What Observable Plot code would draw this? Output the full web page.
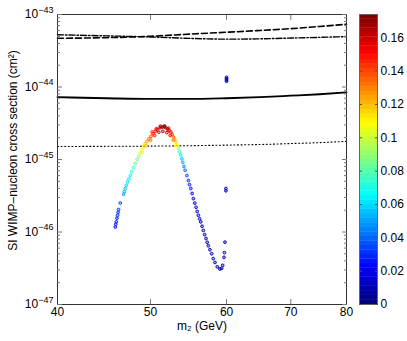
<!DOCTYPE html>
<html><head><meta charset="utf-8">
<script src="https://cdn.jsdelivr.net/npm/d3@7"></script>
<script src="https://cdn.jsdelivr.net/npm/@observablehq/plot@0.6"></script>
<style>
body{margin:0;background:#fff;}
#wrap{position:relative;width:407px;height:341px;font-family:"Liberation Sans",Arial,sans-serif;}
#wrap svg{position:absolute;top:0;}
</style></head><body><div id="wrap"></div>
<script>
// scatter points: m2 (GeV), SI cross section (cm^2), colour value
const m2 = [45.95,46.00,46.06,46.13,46.20,46.26,46.31,46.50,46.87,46.95,47.06,47.18,47.32,47.47,47.63,47.80,48.00,48.20,48.40,48.60,48.78,48.97,49.17,49.37,49.57,49.80,50.05,50.30,50.56,50.85,51.17,51.40,51.66,51.85,52.07,52.28,52.49,52.65,52.82,53.00,53.16,53.30,53.45,53.60,53.76,53.90,54.02,54.17,54.32,54.55,54.75,54.90,55.07,55.25,55.41,55.60,55.77,55.92,56.08,56.25,56.40,56.58,56.75,56.93,57.12,57.28,57.43,57.65,57.90,58.12,58.36,58.68,59.06,59.30,59.44,59.63,59.70,59.77,59.91,59.91,60,60,60,60,
  49.0,49.5,50.0,50.5,51.0,51.5,52.0,52.4,52.8,53.1,50.2,50.7,51.2,51.7,52.2];
const sigma = [1.17e-46,1.28e-46,1.38e-46,1.55e-46,1.70e-46,1.87e-46,2.04e-46,2.51e-46,3.31e-46,3.60e-46,3.98e-46,4.40e-46,4.90e-46,5.40e-46,6.03e-46,6.80e-46,7.76e-46,8.80e-46,1.00e-45,1.11e-45,1.23e-45,1.37e-45,1.51e-45,1.65e-45,1.78e-45,1.93e-45,2.09e-45,2.27e-45,2.45e-45,2.60e-45,2.75e-45,2.80e-45,2.82e-45,2.75e-45,2.63e-45,2.52e-45,2.40e-45,2.22e-45,2.04e-45,1.88e-45,1.74e-45,1.57e-45,1.41e-45,1.27e-45,1.15e-45,1.02e-45,9.12e-46,8.00e-46,7.08e-46,6.00e-46,5.13e-46,4.50e-46,3.98e-46,3.40e-46,2.88e-46,2.50e-46,2.19e-46,1.92e-46,1.70e-46,1.52e-46,1.38e-46,1.20e-46,1.05e-46,9.20e-47,8.13e-47,7.20e-47,6.46e-47,5.70e-47,5.01e-47,4.30e-47,3.80e-47,3.31e-47,3.09e-47,3.15e-47,3.47e-47,4.47e-47,5.20e-47,7.24e-47,3.98e-46,3.70e-46,1.20e-44,1.25e-44,1.30e-44,1.36e-44,
  1.25e-45,1.55e-45,1.85e-45,2.15e-45,2.38e-45,2.45e-45,2.35e-45,2.15e-45,1.85e-45,1.55e-45,2.40e-45,2.65e-45,2.88e-45,2.90e-45,2.70e-45];
const cval = [0.025,0.026,0.027,0.028,0.029,0.030,0.031,0.035,0.048,0.052,0.055,0.058,0.061,0.064,0.067,0.071,0.076,0.081,0.087,0.093,0.099,0.106,0.112,0.118,0.124,0.131,0.138,0.146,0.153,0.159,0.164,0.168,0.170,0.169,0.165,0.160,0.152,0.145,0.137,0.125,0.115,0.103,0.090,0.075,0.064,0.056,0.050,0.045,0.040,0.034,0.030,0.027,0.025,0.022,0.020,0.018,0.017,0.016,0.015,0.014,0.013,0.012,0.011,0.010,0.010,0.009,0.009,0.008,0.008,0.007,0.007,0.006,0.006,0.006,0.006,0.007,0.007,0.008,0.010,0.010,0.008,0.008,0.008,0.008,
  0.103,0.118,0.133,0.148,0.158,0.163,0.160,0.150,0.130,0.110,0.145,0.157,0.166,0.171,0.163];

// limit curves
const lineX = [40,45,50,55,60,65,70,75,80];
const dashed = [4.70e-44,4.79e-44,5.01e-44,5.37e-44,5.69e-44,6.03e-44,6.38e-44,6.84e-44,7.33e-44];
const dashdot = [5.25e-44,5.07e-44,4.90e-44,4.68e-44,4.57e-44,4.62e-44,4.73e-44,4.84e-44,4.95e-44];
const solid = [7.24e-45,7.00e-45,6.84e-45,6.84e-45,7.00e-45,7.24e-45,7.59e-45,7.94e-45,8.41e-45];
const dotted = [1.51e-45,1.52e-45,1.53e-45,1.55e-45,1.58e-45,1.61e-45,1.66e-45,1.71e-45,1.78e-45];

const xTicks = [40,50,60,70,80];
const yMajor = [1e-47,1e-46,1e-45,1e-44,1e-43];
const yMinor = [-47,-46,-45,-44].flatMap(k => [2,3,4,5,6,7,8,9].map(j => j*Math.pow(10,k)));
const cTicks = [0,0.02,0.04,0.06,0.08,0.1,0.12,0.14,0.16];
const cMax = 0.174;
const yLabel = "SI WIMP–nucleon cross section (cm²)";
const xLabel = "m₂ (GeV)";

function jet(t){
  const c = v => Math.max(0, Math.min(1, v));
  const r = c(1.5 - Math.abs(4*t - 3)), g = c(1.5 - Math.abs(4*t - 2)), b = c(1.5 - Math.abs(4*t - 1));
  return `rgb(${Math.round(r*255)},${Math.round(g*255)},${Math.round(b*255)})`;
}
const colorScale = {type: "linear", domain: [0, cMax], interpolate: jet};

const pts = m2.map((m, i) => ({m, s: sigma[i], c: cval[i]}));
const mk = arr => lineX.map((x, i) => ({x, y: arr[i]}));

const tickStroke = "#777";
const main = Plot.plot({
  width: 407, height: 341,
  marginLeft: 57, marginRight: 61, marginTop: 14, marginBottom: 37,
  style: {fontFamily: "'Liberation Sans', Arial, sans-serif", fontSize: "12px", background: "transparent"},
  x: {type: "log", domain: [40, 80]},
  y: {type: "log", domain: [1e-47, 1e-43]},
  color: colorScale,
  marks: [
    Plot.line(mk(dashed), {x: "x", y: "y", stroke: "black", strokeWidth: 1.6, strokeDasharray: "6,3", curve: "monotone-x"}),
    Plot.line(mk(dashdot), {x: "x", y: "y", stroke: "black", strokeWidth: 1.4, strokeDasharray: "6,2,1.5,2", curve: "monotone-x"}),
    Plot.line(mk(solid), {x: "x", y: "y", stroke: "black", strokeWidth: 1.8, curve: "monotone-x"}),
    Plot.line(mk(dotted), {x: "x", y: "y", stroke: "black", strokeWidth: 1.1, strokeDasharray: "1,2.6", curve: "monotone-x"}),
    Plot.dot(pts, {x: "m", y: "s", stroke: "c", fill: "c", fillOpacity: 0.35, r: 1.4, strokeWidth: 0.9}),
    Plot.frame({stroke: "#333"}),
    Plot.text(xTicks, {x: d => d, frameAnchor: "bottom", text: d => String(d), textAnchor: "middle", lineAnchor: "top", dy: 3, fontSize: 12}),
    Plot.axisX(xTicks.slice(1, -1), {anchor: "bottom", tickSize: 5, dy: -5, text: null, stroke: tickStroke, label: null}),
    Plot.axisX(xTicks.slice(1, -1), {anchor: "top", tickSize: 5, dy: 5, text: null, stroke: tickStroke, label: null}),
    Plot.axisY(yMajor, {anchor: "left", tickSize: 0, tickPadding: 4, fontSize: 12, label: null, tickFormat: d => "10^−" + Math.round(-Math.log10(d))}),
    Plot.axisY(yMajor, {anchor: "left", tickSize: 5, dx: 5, text: null, stroke: tickStroke, label: null}),
    Plot.axisY(yMajor, {anchor: "right", tickSize: 5, dx: -5, text: null, stroke: tickStroke, label: null}),
    Plot.axisY(yMinor, {anchor: "left", tickSize: 3, dx: 3, text: null, stroke: tickStroke, label: null}),
    Plot.axisY(yMinor, {anchor: "right", tickSize: 3, dx: -3, text: null, stroke: tickStroke, label: null}),
    Plot.text([yLabel], {frameAnchor: "left", text: d => d, rotate: -90, textAnchor: "middle", lineAnchor: "middle", dx: -44, dy: -9, fontSize: 12}),
    Plot.text([xLabel], {frameAnchor: "bottom", text: d => d, textAnchor: "middle", lineAnchor: "middle", dy: 22, fontSize: 12})
  ]
});

d3.select(main).selectAll('g[aria-label="y-axis tick label"] text').each(function(){
  const s = this.textContent;
  const m = s.match(/^10\^(.+)$/);
  if (!m) return;
  const t = d3.select(this);
  t.text("10");
  t.append("tspan").attr("dy", "-0.6em").attr("font-size", "9").text(m[1]);
});

const bins = d3.range(64).map(i => ({y1: cMax*i/64, y2: cMax*(i+1)/64 + 0.0002, v: cMax*i/63}));
const cbar = Plot.plot({
  width: 48, height: 341,
  marginLeft: 0, marginRight: 30, marginTop: 14, marginBottom: 37,
  style: {fontFamily: "'Liberation Sans', Arial, sans-serif", fontSize: "12px", background: "transparent"},
  x: {domain: [0, 1], axis: null},
  y: {domain: [0, cMax]},
  color: colorScale,
  marks: [
    Plot.rect(bins, {x1: 0, x2: 1, y1: "y1", y2: d => Math.min(d.y2, cMax), fill: "v"}),
    Plot.frame({stroke: "#666"}),
    Plot.axisY(cTicks, {anchor: "right", tickSize: 0, tickPadding: 3, fontSize: 12, label: null, tickFormat: d => String(+d.toFixed(2))}),
    Plot.axisY(cTicks, {anchor: "right", tickSize: 3, dx: -3, text: null, stroke: "#555", label: null}),
    Plot.axisY(cTicks, {anchor: "left", tickSize: 3, dx: 3, text: null, stroke: "#555", label: null})
  ]
});
cbar.style.left = "359px";
main.style.left = "0px";
const wrap = document.getElementById("wrap");
wrap.appendChild(main);
wrap.appendChild(cbar);
</script></body></html>
